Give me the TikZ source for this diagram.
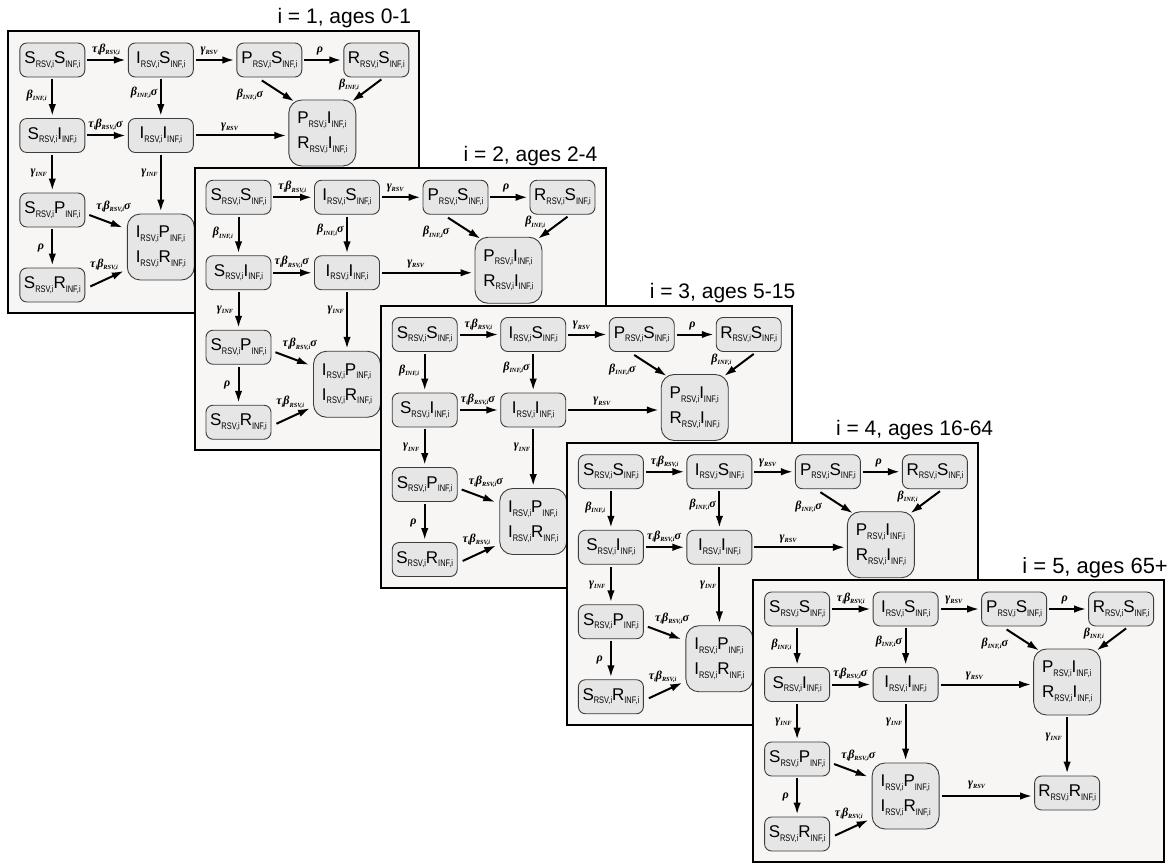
\documentclass[tikz,border=0pt]{standalone}
\usepackage{fontspec}
\setmainfont{Liberation Sans}
\newfontfamily\subfam[FakeStretch=0.78]{Liberation Sans}
\newfontfamily\labfam{Liberation Serif}
\usetikzlibrary{arrows.meta,calc}
\definecolor{panelbg}{HTML}{F7F6F4}
\definecolor{boxfill}{HTML}{E6E6E6}
\definecolor{boxline}{HTML}{3C3C3C}
\newcommand\cpt[2]{#1\raisebox{-3.6pt}{\subfam\fontsize{9.5}{10}\selectfont #2}}
\newcommand\lb[2]{#1\raisebox{-2.2pt}{\fontsize{6.3}{7}\selectfont #2}}
\tikzset{
 panel/.style={fill=panelbg, draw=black, line width=2pt},
 box/.style={draw=boxline, line width=0.9pt, fill=boxfill, rounded corners=7pt,
   minimum width=65pt, minimum height=34pt, inner sep=0pt, font=\fontsize{17}{20}\selectfont},
 bigbox/.style={box, minimum width=67pt, minimum height=66pt, rounded corners=13pt,
   align=left, font=\fontsize{17}{25}\selectfont},
 arr/.style={line width=2pt, -{Latex[length=12pt,width=7.5pt]}, shorten <=2pt, shorten >=2pt},
 darr/.style={line width=2pt, -{Latex[length=12pt,width=7.5pt]}},
 lab/.style={font=\labfam\bfseries\itshape\fontsize{12}{13}\selectfont, inner sep=0pt},
 ttl/.style={anchor=base west, inner sep=0pt}
}
\newcommand\drawpanel[3]{%
\begin{scope}[shift={({8.3+186.2*(#1-1)},{31+137.25*(#1-1)})}]
 \draw[panel] (0,0) rectangle (411,282);
 \node[ttl, font=\fontsize{#3}{24}\selectfont] (t#1) at (269,-7) {#2};
 \node[box] (ss#1) at (44,29) {\cpt{S}{RSV,i}\cpt{S}{INF,i}};
 \node[box] (is#1) at (152.5,29) {\cpt{I}{RSV,i}\cpt{S}{INF,i}};
 \node[box] (ps#1) at (261,29) {\cpt{P}{RSV,i}\cpt{S}{INF,i}};
 \node[box] (rs#1) at (368,29) {\cpt{R}{RSV,i}\cpt{S}{INF,i}};
 \node[box] (si#1) at (44,104.5) {\cpt{S}{RSV,i}\cpt{I}{INF,i}};
 \node[box] (ii#1) at (152.5,104.5) {\cpt{I}{RSV,i}\cpt{I}{INF,i}};
 \node[bigbox] (pi#1) at (314,102) {\cpt{P}{RSV,i}\cpt{I}{INF,i}\\\cpt{R}{RSV,i}\cpt{I}{INF,i}};
 \node[box] (sp#1) at (44,179) {\cpt{S}{RSV,i}\cpt{P}{INF,i}};
 \node[box] (sr#1) at (44,254) {\cpt{S}{RSV,i}\cpt{R}{INF,i}};
 \node[bigbox] (ip#1) at (152.5,216) {\cpt{I}{RSV,i}\cpt{P}{INF,i}\\\cpt{I}{RSV,i}\cpt{R}{INF,i}};
 % arrows
 \draw[arr] (ss#1.east) -- (is#1.west);
 \draw[arr] (is#1.east) -- (ps#1.west);
 \draw[arr] (ps#1.east) -- (rs#1.west);
 \draw[arr] (ss#1.south) -- (si#1.north);
 \draw[arr] (is#1.south) -- (ii#1.north);
 \draw[arr] (si#1.east) -- (ii#1.west);
 \draw[arr] (ii#1.east) -- (ii#1.east -| pi#1.west);
 \draw[arr] (si#1.south) -- (sp#1.north);
 \draw[arr] (ii#1.south) -- (ii#1.south |- ip#1.north);
 \draw[arr] (sp#1.south) -- (sr#1.north);
 \draw[darr] ($(ps#1.south)+(-7.5,3)$) -- ($(pi#1.north west)+(6,2)$);
 \draw[darr] ($(rs#1.south)+(5,2)$) -- ($(pi#1.north east)+(-4.5,2)$);
 \draw[darr] ($(sp#1.east)+(4,5)$) -- ($(ip#1.north west)+(-4,14)$);
 \draw[darr] ($(sr#1.east)+(5,1.5)$) -- ($(ip#1.south west)+(-3,-9.5)$);
 % labels
 \node[lab] (l1#1) at (97.7,19) {\lb{τ}{i}\lb{β}{RSV,i}};
 \node[lab] (l2#1) at (200.7,20) {\lb{γ}{RSV}};
 \node[lab] (l3#1) at (311.7,20) {ρ};
 \node[lab, anchor=east] (l4#1) at (38.5,65) {\lb{β}{INF,i}};
 \node[lab, anchor=east] (l5#1) at (149.2,62) {\lb{β}{INF,i}σ};
 \node[lab] (l6#1) at (241.7,64) {\lb{β}{INF,i}σ};
 \node[lab] (l7#1) at (340.7,54) {\lb{β}{INF,i}};
 \node[lab] (l8#1) at (97.2,94) {\lb{τ}{i}\lb{β}{RSV,i}σ};
 \node[lab] (l9#1) at (221.2,96) {\lb{γ}{RSV}};
 \node[lab, anchor=east] (l10#1) at (38.7,142) {\lb{γ}{INF}};
 \node[lab, anchor=east] (l11#1) at (149.5,142) {\lb{γ}{INF}};
 \node[lab] (l12#1) at (105.2,176) {\lb{τ}{i}\lb{β}{RSV,i}σ};
 \node[lab, anchor=east] (l13#1) at (36,217) {ρ};
 \node[lab] (l14#1) at (95.7,234) {\lb{τ}{i}\lb{β}{RSV,i}};
 \ifnum#1=5
  \node[box] (rr#1) at (314,213) {\cpt{R}{RSV,i}\cpt{R}{INF,i}};
  \draw[arr] (pi#1.south) -- (rr#1.north);
  \draw[arr] (ip#1.east) -- (ip#1.east -| rr#1.west);
  \node[lab, anchor=east] (l15#1) at (309,157) {\lb{γ}{INF}};
  \node[lab] (l16#1) at (223.5,205) {\lb{γ}{RSV}};
 \else
  \coordinate (rr#1) at (314,196);
  \draw[arr] (pi#1.south) -- (rr#1);
 \fi
\end{scope}}
\begin{document}
\begin{tikzpicture}[x=1pt,y=-1pt]
\useasboundingbox (0,0) rectangle (1172,864);
\drawpanel{1}{i = 1, ages 0-1}{21}
\drawpanel{2}{i = 2, ages 2-4}{21}
\drawpanel{3}{i = 3, ages 5-15}{21}
\drawpanel{4}{i = 4, ages 16-64}{21}
\drawpanel{5}{i = 5, ages 65+}{22}
\end{tikzpicture}
\end{document}
